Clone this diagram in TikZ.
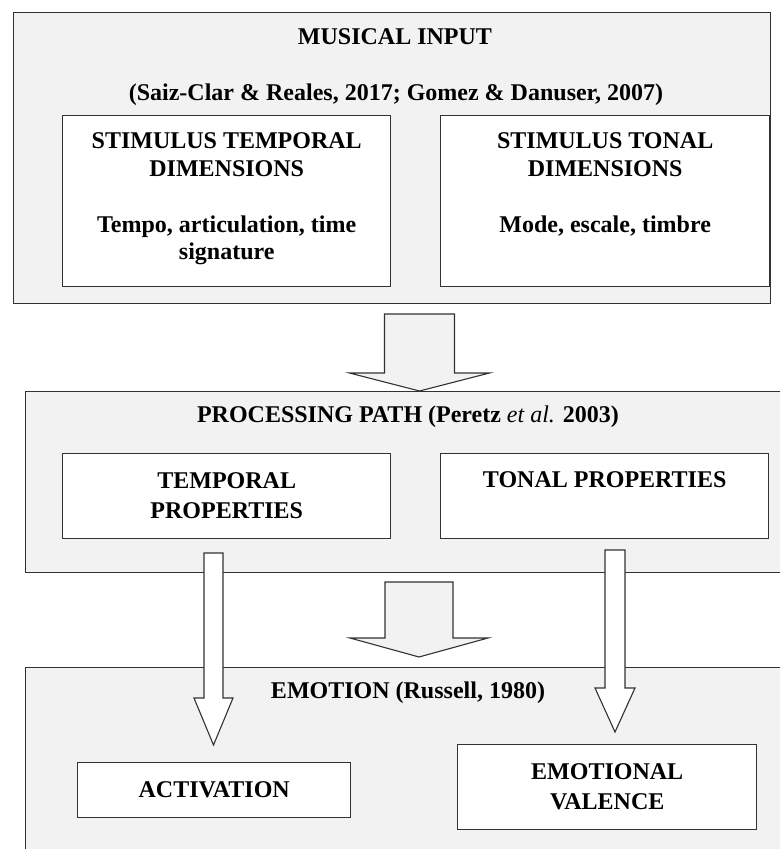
\documentclass[tikz,border=0pt]{standalone}
\usepackage{fontspec}
\setmainfont{Liberation Serif}
\usetikzlibrary{calc}

\definecolor{panelgray}{RGB}{242,242,242}
\definecolor{edgegray}{RGB}{50,50,50}

\tikzset{
  panel/.style={rectangle, draw=edgegray, line width=1.4pt, fill=panelgray, anchor=north west, inner sep=0pt},
  innerbox/.style={rectangle, draw=edgegray, line width=1.4pt, fill=white, anchor=north west, inner sep=0pt, align=center},
  txt/.style={font=\bfseries\fontsize{24}{27}\selectfont, inner sep=0pt, align=center},
  fatarrow/.style={draw=edgegray, line width=1.1pt, fill=panelgray, line join=miter},
  thinarrow/.style={draw=edgegray, line width=1.1pt, fill=white, line join=miter},
}

% #1 style, #2 start, #3 tip, #4 half shaft, #5 half head, #6 head length
\newcommand{\drawblockarrow}[6]{%
  \draw[#1] ($(#2)+(-#4,0)$) -- ($(#3)+(-#4,-#6)$) -- ($(#3)+(-#5,-#6)$) -- (#3)
    -- ($(#3)+(#5,-#6)$) -- ($(#3)+(#4,-#6)$) -- ($(#2)+(#4,0)$) -- cycle;}

\begin{document}
\begin{tikzpicture}[x=1pt,y=1pt,yscale=-1,xscale=1]
\useasboundingbox (0,0) rectangle (780,849);
\clip (0,0) rectangle (780,849);

%Panels
\node[panel, minimum width=757pt, minimum height=291pt] (input) at (13,12) {};
\node[panel, minimum width=775pt, minimum height=181pt] (processing) at (25,391) {};
\node[panel, minimum width=775pt, minimum height=210pt] (emotion) at (25,667) {};

% Text Node
\node[txt] (inputtitle) at (395,37) {MUSICAL INPUT};
% Text Node
\node[txt] (inputcite) at (396,95) {(Saiz-Clar \& Reales, 2017; Gomez \& Danuser, 2007)};
% Text Node
\node[txt] (proctitle) at (408,417) {PROCESSING PATH (Peretz {\mdseries\itshape et al.} 2003)};
% Text Node
\node[txt] (emotitle) at (408,693) {EMOTION (Russell, 1980)};

%Inner boxes
\node[innerbox, minimum width=328pt, minimum height=171pt] (tempdim) at (62,115) {};
\node[innerbox, minimum width=329pt, minimum height=171pt] (tonaldim) at (440,115) {};
\node[innerbox, minimum width=328pt, minimum height=85pt] (tempprop) at (62,453) {};
\node[innerbox, minimum width=328pt, minimum height=85pt] (tonalprop) at (440,453) {};
\node[innerbox, txt, minimum width=273pt, minimum height=55pt] (activation) at (77,762) {ACTIVATION};
\node[innerbox, txt, minimum width=299pt, minimum height=85pt] (valence) at (457,744) {EMOTIONAL\\[3pt]VALENCE};

% Text Node
\node[txt, anchor=north] (tempdimtext) at ($(tempdim.north)+(0,17)$)
  {STIMULUS TEMPORAL\\[1pt]DIMENSIONS\\[29pt]Tempo, articulation, time\\signature};
% Text Node
\node[txt, anchor=north] (tonaldimtext) at ($(tonaldim.north)+(0,17)$)
  {STIMULUS TONAL\\[1pt]DIMENSIONS\\[29pt]Mode, escale, timbre};
% Text Node
\node[txt, anchor=north] (tempproptext) at ($(tempprop.north)+(0,19)$) {TEMPORAL\\[3pt]PROPERTIES};
% Text Node
\node[txt, anchor=north] (tonalproptext) at ($(tonalprop.north)+(0,18)$) {TONAL PROPERTIES};

%Block arrows
\coordinate (a1top) at (419.5,314);
\coordinate (a1tip) at (a1top |- processing.north);
\drawblockarrow{fatarrow}{a1top}{a1tip}{35}{70}{18}

\coordinate (a2top) at (419,582);
\coordinate (a2tip) at (419,657);
\drawblockarrow{fatarrow}{a2top}{a2tip}{34}{69}{19}

\coordinate (ltop) at (213.5,553);
\coordinate (ltip) at (213.5,745);
\drawblockarrow{thinarrow}{ltop}{ltip}{9.5}{19.5}{47}

\coordinate (rtop) at (615,550);
\coordinate (rtip) at (615,732);
\drawblockarrow{thinarrow}{rtop}{rtip}{10}{20}{44}
\end{tikzpicture}
\end{document}
